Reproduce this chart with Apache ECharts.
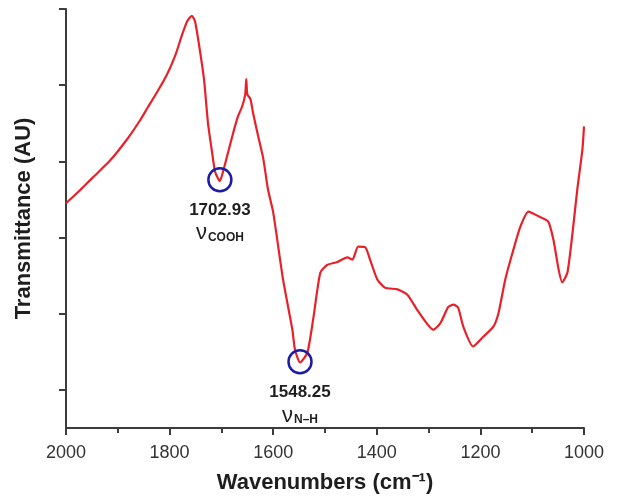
<!DOCTYPE html>
<html>
<head>
<meta charset="utf-8">
<script src="https://cdn.jsdelivr.net/npm/echarts@6/dist/echarts.min.js"></script>
<style>
  html, body { margin: 0; padding: 0; background: #fff; }
  #chart { width: 617px; height: 499px; }
</style>
</head>
<body>
<div id="chart"></div>
<script>
// spectrum (y in arbitrary units, axis ticks at half units)
const wavenumber = [2000, 1973, 1948, 1915, 1882, 1857, 1842, 1824, 1805, 1789,
  1776, 1766, 1757, 1751, 1745, 1737, 1733, 1726, 1718, 1712,
  1703, 1697, 1687, 1677, 1668, 1660, 1654, 1652, 1650, 1644,
  1639, 1629, 1619, 1610, 1600, 1581, 1563, 1558, 1548, 1534,
  1523, 1509, 1496, 1476, 1457, 1447, 1436, 1422, 1413, 1399,
  1384, 1360, 1341, 1322, 1302, 1291, 1277, 1262, 1252, 1243,
  1233, 1214, 1194, 1175, 1165, 1152, 1138, 1123, 1107, 1088,
  1069, 1059, 1049, 1042, 1032, 1022, 1013, 1003, 1000];
const transmittance = [2.95, 3.12, 3.29, 3.51, 3.79, 4.04, 4.21, 4.41, 4.64, 4.89,
  5.16, 5.34, 5.41, 5.34, 5.11, 4.75, 4.54, 4.01, 3.62, 3.36,
  3.24, 3.36, 3.62, 3.88, 4.09, 4.22, 4.38, 4.58, 4.38, 4.32,
  4.14, 3.83, 3.53, 3.13, 2.83, 1.95, 1.29, 1.03, 0.86, 0.99,
  1.42, 2.04, 2.14, 2.18, 2.24, 2.21, 2.38, 2.37, 2.21, 1.95,
  1.84, 1.82, 1.75, 1.55, 1.36, 1.29, 1.38, 1.59, 1.62, 1.58,
  1.33, 1.07, 1.20, 1.33, 1.51, 1.95, 2.30, 2.64, 2.84, 2.78,
  2.71, 2.47, 2.08, 1.91, 2.04, 2.57, 3.13, 3.66, 3.96];

// marked peaks
const peakWavenumber = [1702.93, 1548.25];
const peakLevel = [3.26, 0.87];
const peakGroup = ['COOH', 'N\u2013H'];

const xTicks = [1000, 1200, 1400, 1600, 1800, 2000];
const yTicks = [0.5, 1.5, 2.5, 3.5, 4.5, 5.5];

const FONT = '"Liberation Sans", Arial, sans-serif';
const AXIS_COLOR = '#3c3c3c';
const TEXT_COLOR = '#1e1e1e';

const chart = echarts.init(document.getElementById('chart'), null, { renderer: 'canvas' });

const option = {
  animation: false,
  backgroundColor: '#fff',
  textStyle: { fontFamily: FONT },
  grid: { left: 66, right: 33, top: 9, bottom: 71, containLabel: false },
  xAxis: {
    type: 'value',
    inverse: true,
    min: 1000,
    max: 2000,
    interval: 200,
    name: 'Wavenumbers (cm\u207B\u00B9)',
    nameLocation: 'middle',
    nameGap: 44,
    nameTextStyle: { fontSize: 22, fontWeight: 'bold', color: TEXT_COLOR, fontFamily: FONT },
    axisLine: { show: true, lineStyle: { color: AXIS_COLOR, width: 2 } },
    axisTick: { show: true, length: 7, lineStyle: { color: AXIS_COLOR, width: 2 } },
    minorTick: { show: true, splitNumber: 2, length: 5, lineStyle: { color: AXIS_COLOR, width: 2 } },
    axisLabel: {
      customValues: xTicks,
      formatter: (v) => String(v),
      margin: 16,
      fontSize: 18,
      color: '#333',
      fontFamily: FONT
    },
    splitLine: { show: false },
    minorSplitLine: { show: false }
  },
  yAxis: {
    type: 'value',
    min: 0,
    max: 5.5,
    name: 'Transmittance (AU)',
    nameLocation: 'middle',
    nameGap: 31,
    nameTextStyle: { fontSize: 22, fontWeight: 'bold', color: TEXT_COLOR, fontFamily: FONT },
    axisLine: { show: true, lineStyle: { color: AXIS_COLOR, width: 2 } },
    axisTick: { show: true, customValues: yTicks, length: 7, lineStyle: { color: AXIS_COLOR, width: 2 } },
    axisLabel: { show: false },
    splitLine: { show: false }
  },
  series: [
    {
      type: 'line',
      data: wavenumber.map((w, i) => [w, transmittance[i]]),
      showSymbol: false,
      smooth: 0.2,
      clip: true,
      lineStyle: { color: '#e8202a', width: 2.2 },
      z: 2
    },
    {
      type: 'scatter',
      data: peakWavenumber.map((w, i) => [w, peakLevel[i]]),
      symbol: 'circle',
      symbolSize: 23,
      itemStyle: { color: 'rgba(0,0,0,0)', borderColor: '#1c1ca6', borderWidth: 2.5, opacity: 1 },
      z: 3,
      label: {
        show: true,
        position: 'bottom',
        distance: 7,
        align: 'center',
        color: TEXT_COLOR,
        formatter: (p) => '{num|' + p.value[0].toFixed(2) + '}\n{nu|\u03BD}{sub|' + peakGroup[p.dataIndex] + '}',
        rich: {
          num: { fontSize: 17, fontWeight: 'bold', color: TEXT_COLOR, lineHeight: 22, fontFamily: FONT },
          nu: { fontSize: 22, color: TEXT_COLOR, lineHeight: 24, fontFamily: FONT },
          sub: { fontSize: 12, fontWeight: 'bold', color: TEXT_COLOR, padding: [9, 0, 0, 1], fontFamily: FONT }
        }
      },
      emphasis: { disabled: true }
    }
  ]
};

chart.setOption(option);
</script>
</body>
</html>
